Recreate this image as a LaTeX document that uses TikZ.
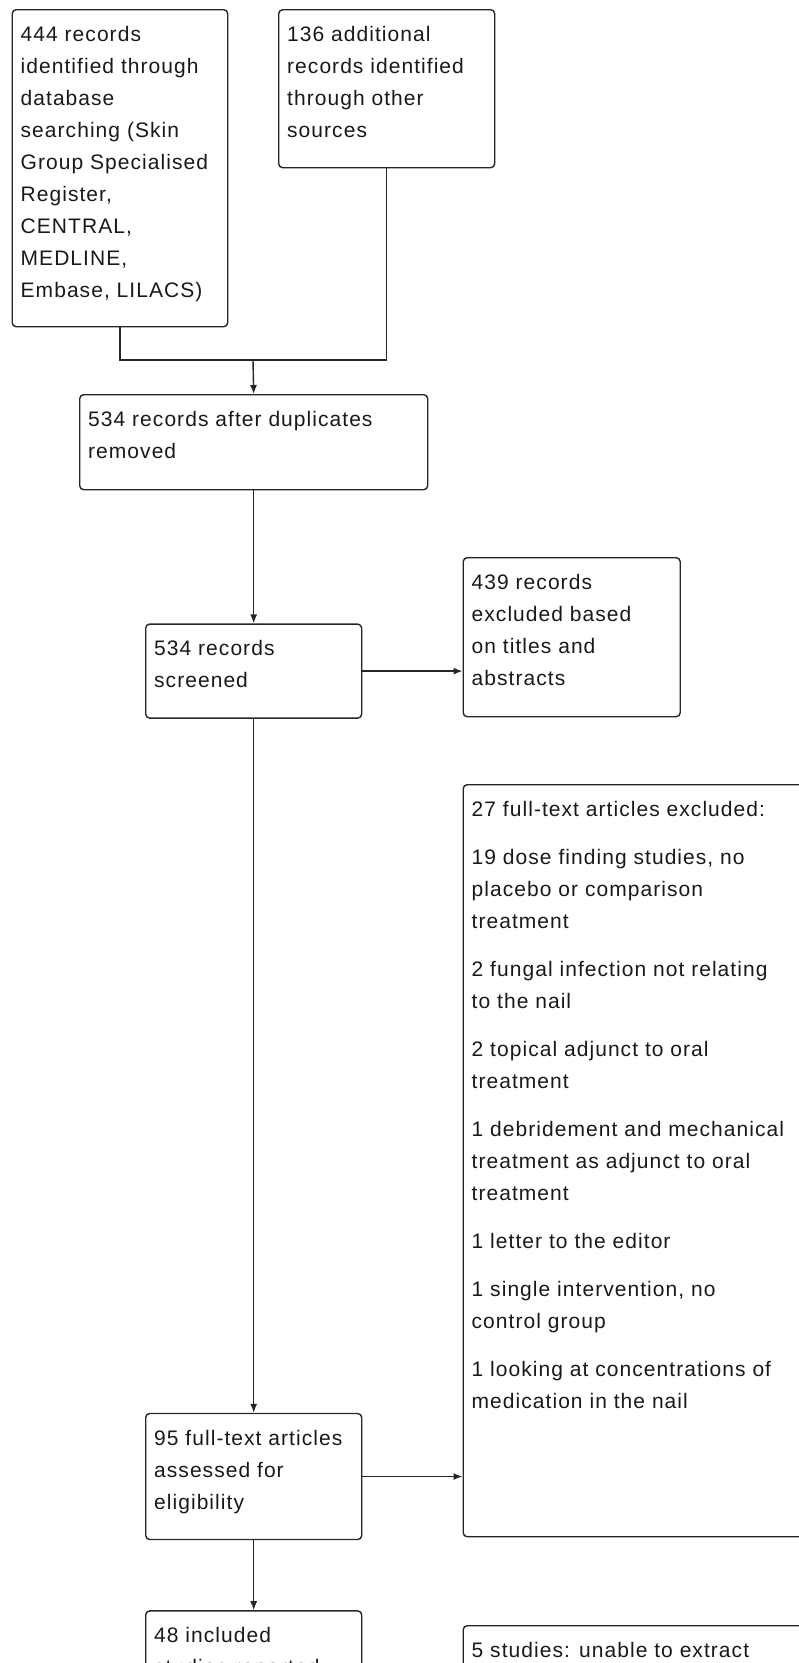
\documentclass[tikz,border=0pt]{standalone}
\usepackage{fontspec}
\newfontfamily\boxfont{Liberation Sans}[LetterSpace=5]
\usetikzlibrary{arrows.meta,positioning}

\begin{document}
\begin{tikzpicture}[
    x=1pt, y=-1pt,
    frame/.style={draw=black!85, line width=1.4pt, rounded corners=4pt, inner sep=0pt, minimum width=216pt},
    txt/.style={inner sep=0pt, align=left, text=black!90, font=\boxfont\fontsize{21}{32}\selectfont},
    arrow/.style={-{Latex[length=9pt,width=7pt]}, line width=1.4pt, draw=black!85},
    link/.style={line width=1.4pt, draw=black!85}
  ]
  \useasboundingbox (0,0) rectangle (799,1663);
  \clip (0,0) rectangle (799,1663);

  % Identification
  \node[frame, anchor=north west, minimum width=215.5pt, minimum height=317pt] (db) at (11.5,9) {};
  \node[frame, anchor=north west, minimum height=158pt] (other) at (278,9) {};
  \node[frame, anchor=north west, minimum width=348pt, minimum height=95pt] (dup) at (79,394) {};

  % Screening and eligibility
  \node[frame, below=133pt of dup, minimum height=94pt] (screen) {};
  \node[frame, anchor=north west, minimum width=217pt, minimum height=159pt] (excl) at (462.5,557) {};
  \node[frame, anchor=north west, minimum width=400pt, minimum height=752pt] (ftexcl) at (462.5,784) {};
  \node[frame, below=694pt of screen, minimum height=126pt] (assess) {};

  % Included
  \node[frame, below=70pt of assess, minimum height=200pt] (incl) {};
  \node[frame, anchor=north west, minimum width=400pt, minimum height=200pt] (unable) at (462.5,1625) {};

  % Texts
  \node[txt, below right=17pt and 9pt of db.north west] (dbtext) {444 records\\identified through\\database\\searching (Skin\\Group Specialised\\Register,\\CENTRAL,\\MEDLINE,\\Embase, LILACS)};
  \node[txt, below right=17pt and 9pt of other.north west] (othertext) {136 additional\\records identified\\through other\\sources};
  \node[txt, below right=17pt and 9pt of dup.north west] (duptext) {534 records after duplicates\\removed};
  \node[txt, below right=17pt and 9pt of screen.north west] (screentext) {534 records\\screened};
  \node[txt, below right=17pt and 9pt of excl.north west] (excltext) {439 records\\excluded based\\on titles and\\abstracts};
  \node[txt, below right=17pt and 9pt of ftexcl.north west] (ftexcltext) {27 full-text articles excluded:\\[16pt]
    19 dose finding studies, no\\placebo or comparison\\treatment\\[16pt]
    2 fungal infection not relating\\to the nail\\[16pt]
    2 topical adjunct to oral\\treatment\\[16pt]
    1 debridement and mechanical\\treatment as adjunct to oral\\treatment\\[16pt]
    1 letter to the editor\\[16pt]
    1 single intervention, no\\control group\\[16pt]
    1 looking at concentrations of\\medication in the nail};
  \node[txt, below right=17pt and 9pt of assess.north west] (assesstext) {95 full-text articles\\assessed for\\eligibility};
  \node[txt, below right=17pt and 9pt of incl.north west] (incltext) {48 included\\studies reported};
  \node[txt, below right=17pt and 9pt of unable.north west] (unabletext) {5 studies: unable to extract};

  % Connections
  \coordinate (join) at (253,360);
  \draw[link] (db.south) |- (join) -| (other.south);
  \draw[arrow] (join) -- (dup.north);
  \draw[arrow] (dup) -- (screen);
  \draw[arrow] (screen.east) -- (screen.east -| excl.west);
  \draw[arrow] (screen) -- (assess);
  \draw[arrow] (assess.east) -- (assess.east -| ftexcl.west);
  \draw[arrow] (assess) -- (incl);

\end{tikzpicture}
\end{document}
